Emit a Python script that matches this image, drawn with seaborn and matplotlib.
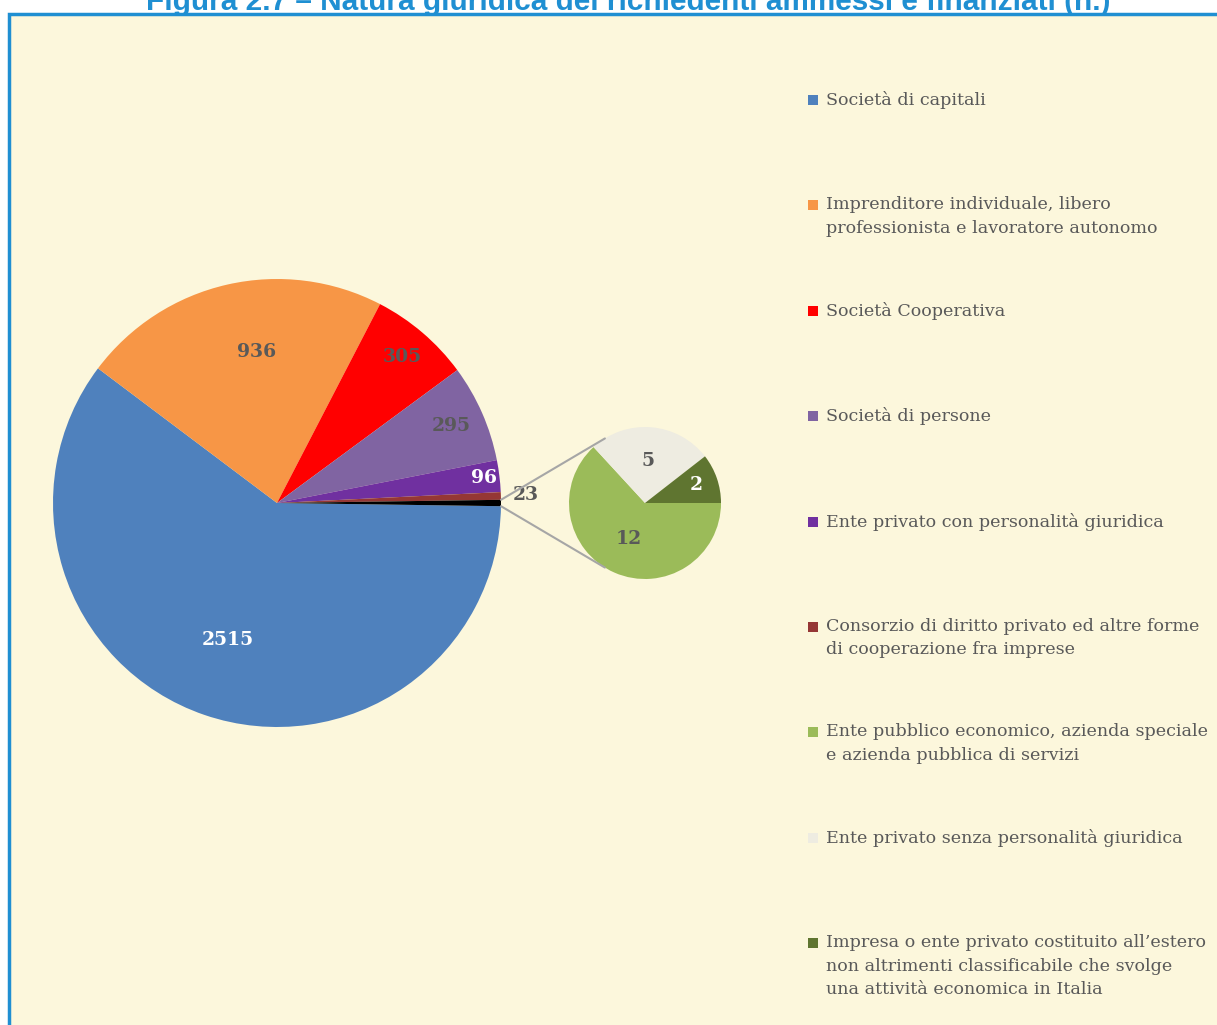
import numpy as np
import matplotlib.pyplot as plt
import seaborn as sns
from matplotlib.patches import Rectangle

# data
categories = [
    "Società di capitali",
    "Imprenditore individuale, libero\nprofessionista e lavoratore autonomo",
    "Società Cooperativa",
    "Società di persone",
    "Ente privato con personalità giuridica",
    "Consorzio di diritto privato ed altre forme\ndi cooperazione fra imprese",
    "Ente pubblico economico, azienda speciale\ne azienda pubblica di servizi",
    "Ente privato senza personalità giuridica",
    "Impresa o ente privato costituito all’estero\nnon altrimenti classificabile che svolge\nuna attività economica in Italia",
]
main_values = [2515, 936, 305, 295, 96, 23]
other_values = [12, 5, 2]

main_colors = ["#4F81BD", "#F79646", "#FF0000", "#8064A2", "#7030A0", "#953735"]
other_color = "#000000"
sub_colors = ["#9BBB59", "#EEECE1", "#5F7530"]

title = "Figura 2.7 – Natura giuridica dei richiedenti ammessi e finanziati (n.)"

sns.set_style("white")
plt.rcParams['font.family'] = ['DejaVu Serif']

W, H = 1217, 1025
BG = "#FCF7DC"
BLUE = "#1F8FD2"
GREY = "#595959"

fig = plt.figure(figsize=(W / 100, H / 100), dpi=100)
ax = fig.add_axes([0, 0, 1, 1])

# frame
ax.add_patch(Rectangle((9, -30), W + 50, H - 14 + 30, facecolor=BG,
                       edgecolor=BLUE, linewidth=2.5, zorder=0))

# main pie
all_main = main_values + [sum(other_values)]
half = all_main[-1] / sum(all_main) * 360 / 2
c1, r1 = np.array([277, H - 503]), 224
wedges1, _ = ax.pie(all_main, colors=main_colors + [other_color], center=tuple(c1),
                    radius=r1, startangle=-half, counterclock=False,
                    wedgeprops=dict(linewidth=0))

# secondary pie
c2, r2 = np.array([645, H - 503]), 76
wedges2, _ = ax.pie(other_values, colors=sub_colors, center=tuple(c2), radius=r2,
                    startangle=0, counterclock=False, wedgeprops=dict(linewidth=0))


def put_labels(wedges, values, center, radius, fracs, shifts, tcolors):
    for w, v, f, sh, tc in zip(wedges, values, fracs, shifts, tcolors):
        a = np.deg2rad((w.theta1 + w.theta2) / 2 + sh)
        x = center[0] + radius * f * np.cos(a)
        y = center[1] + radius * f * np.sin(a)
        ax.text(x, y, str(v), ha='center', va='center', fontsize=13.5,
                fontweight='bold', color=tc)


put_labels(wedges1, main_values, c1, r1, [0.65, 0.68, 0.86, 0.85, 0.93, 1.11],
           [-1, -5, 0, 0, 0, 0],
           ["white", GREY, GREY, GREY, "white", GREY])
put_labels(wedges2, other_values, c2, r2, [0.52, 0.55, 0.71], [0, 0, 0],
           [GREY, GREY, "white"])

# connector lines (tangents to the secondary pie)
d = c2[0] - (c1[0] + r1)
t = np.arccos(r2 / d)
for s in (1, -1):
    a0 = np.deg2rad(s * half)
    p0 = c1 + r1 * np.array([np.cos(a0), np.sin(a0)])
    p1 = c2 + r2 * np.array([-np.cos(t), s * np.sin(t)])
    ax.plot([p0[0], p1[0]], [p0[1], p1[1]], color="#A6A6A6", lw=1.5, zorder=5)

# legend
legend_colors = main_colors + sub_colors
for i, (lab, col) in enumerate(zip(categories, legend_colors)):
    yc = H - (100 + i * 105.4)
    ax.add_patch(Rectangle((808, yc - 5), 10, 10, facecolor=col, edgecolor='none'))
    ax.text(826, yc + 9, lab, ha='left', va='top', fontsize=12.6,
            color=GREY, linespacing=1.5)

# title (partially clipped at the top, as in the source)
ax.text(628, H - 10, title, ha='center', va='baseline', fontsize=21.4,
        fontweight='bold', color=BLUE, family=['Liberation Sans', 'DejaVu Sans'])

ax.set_xlim(0, W)
ax.set_ylim(0, H)
ax.set_aspect('equal')
ax.axis('off')

fig.savefig("out.png", dpi=100, facecolor="white")
